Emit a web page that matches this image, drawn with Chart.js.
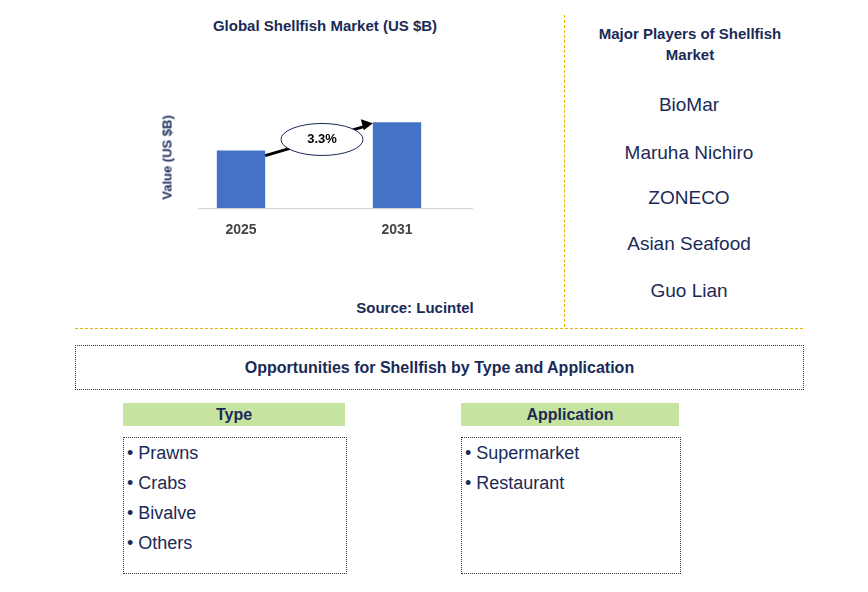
<!DOCTYPE html>
<html><head><meta charset="utf-8">
<script src="https://cdn.jsdelivr.net/npm/chart.js@4"></script>
<style>
body{margin:0;width:868px;height:592px;background:#fff;font-family:Arial,"Liberation Sans",sans-serif;position:relative;overflow:hidden;color:#1a2a57}
.a{position:absolute}
.t{font-weight:bold;font-size:15px;text-align:center}
.p{font-size:19px;text-align:center;width:250px;left:564px;color:#1a2a57}
.box{position:absolute;border:1px dotted #333}
.hdr{position:absolute;background:#c6e3a0;font-weight:bold;font-size:16px;text-align:center;line-height:23px}
.li{font-size:18px;line-height:30px;padding-left:3px;padding-top:0px}
</style></head><body>
<div class="a t" style="left:180px;top:17px;width:290px">Global Shellfish Market (US $B)</div>
<div class="a" style="left:155px;top:100px;width:320px;height:145px"><canvas id="c"></canvas></div>
<div class="a t" style="left:117px;top:150px;width:100px;font-size:13px;transform:rotate(-90deg)">Value (US $B)</div>
<div class="a t" style="left:330px;top:299px;width:170px">Source: Lucintel</div>
<div class="a" style="left:564px;top:15px;height:312px;border-left:1px dashed #e3b400"></div>
<div class="a" style="left:75px;top:328px;width:728px;border-top:1px dashed #e3b400"></div>
<div class="a t" style="left:575px;top:23px;width:230px;line-height:21px">Major Players of Shellfish Market</div>
<div class="a p" style="top:94px">BioMar</div>
<div class="a p" style="top:142px">Maruha Nichiro</div>
<div class="a p" style="top:187px">ZONECO</div>
<div class="a p" style="top:233px">Asian Seafood</div>
<div class="a p" style="top:280px">Guo Lian</div>
<div class="box t" style="left:75px;top:345px;width:727px;height:43px;line-height:43px;font-size:16px">Opportunities for Shellfish by Type and Application</div>
<div class="hdr" style="left:123px;top:403px;width:222px">Type</div>
<div class="hdr" style="left:461px;top:403px;width:218px">Application</div>
<div class="box li" id="tl" style="left:123px;top:437px;width:219px;height:135px"></div>
<div class="box li" id="al" style="left:461px;top:437px;width:215px;height:135px"></div>
<script>
const years=["2025","2031"];
const values=[10,12.15];
const cagr="3.3%";
const types=["Prawns","Crabs","Bivalve","Others"];
const apps=["Supermarket","Restaurant"];
document.getElementById('tl').innerHTML=types.map(s=>'• '+s).join('<br>');
document.getElementById('al').innerHTML=apps.map(s=>'• '+s).join('<br>');
const arrow={id:'arrow',afterDatasetsDraw(ch){
 const c=ch.ctx,m=ch.getDatasetMeta(0).data,a=ch.chartArea;
 c.save();c.strokeStyle='#d0d0d0';c.lineWidth=1;c.beginPath();c.moveTo(a.left+35,a.bottom+0.5);c.lineTo(a.right-2,a.bottom+0.5);c.stroke();
 const x1=m[0].x+m[0].width/2,y1=m[0].y+5,x2=m[1].x-m[1].width/2,y2=m[1].y+1;
 c.strokeStyle='#000';c.lineWidth=3;c.beginPath();c.moveTo(x1,y1);c.lineTo(x2-8,y2+3);c.stroke();
 c.fillStyle='#000';c.beginPath();c.moveTo(x2,y2);c.lineTo(x2-12,y2-4);c.lineTo(x2-9,y2+7);c.closePath();c.fill();
 const cx=(x1+x2)/2+3,cy=(y1+y2)/2;
 c.beginPath();c.ellipse(cx,cy,41,16,0,0,Math.PI*2);c.fillStyle='#fff';c.fill();c.lineWidth=1;c.strokeStyle='#1a2a57';c.stroke();
 c.fillStyle='#000';c.font='bold 13px Arial';c.textAlign='center';c.textBaseline='middle';c.fillText(cagr,cx,cy);c.restore();}};
new Chart(document.getElementById('c'),{type:'bar',data:{labels:years,datasets:[{data:values,backgroundColor:'#4472c4',barPercentage:0.62,categoryPercentage:0.5}]},
options:{responsive:true,maintainAspectRatio:false,animation:false,layout:{padding:0},
plugins:{legend:{display:false},tooltip:{enabled:false}},
scales:{x:{grid:{display:false},border:{display:false},ticks:{color:'#444',padding:6,font:{weight:'bold',size:14}}},
y:{min:5.62,max:13.85,grid:{display:false},border:{display:false},ticks:{display:false}}}},plugins:[arrow]});
</script></body></html>
